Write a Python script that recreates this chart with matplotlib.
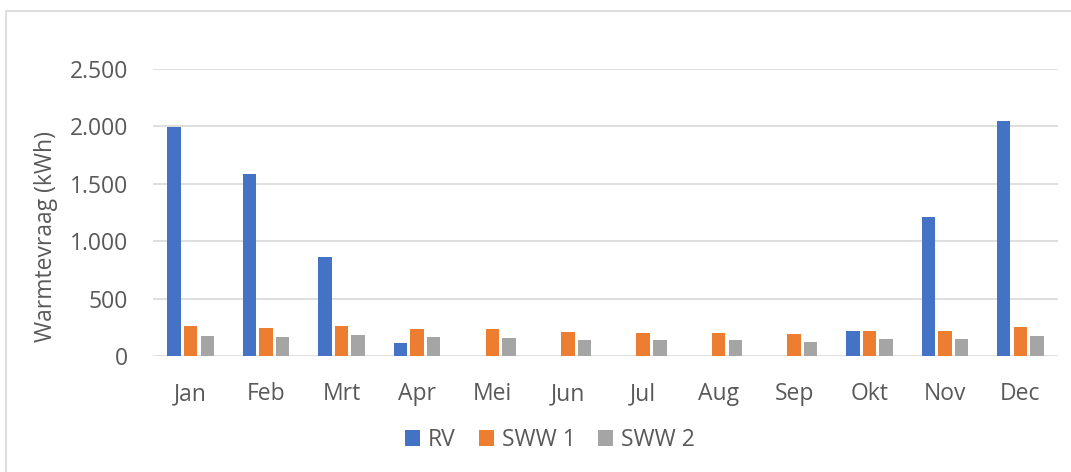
import numpy as np
import matplotlib
matplotlib.use('Agg')
import matplotlib.pyplot as plt
from matplotlib.patches import Rectangle
from matplotlib.ticker import FuncFormatter

months = ["Jan", "Feb", "Mrt", "Apr", "Mei", "Jun", "Jul", "Aug", "Sep", "Okt", "Nov", "Dec"]
rv = [1992, 1583, 865, 116, 0, 0, 0, 0, 0, 215, 1213, 2044]
sww1 = [261, 244, 261, 235, 239, 213, 204, 204, 189, 215, 215, 253]
sww2 = [172, 163, 180, 163, 158, 141, 141, 141, 125, 145, 145, 172]
series_names = ["RV", "SWW 1", "SWW 2"]
colors = ["#4472C4", "#ED7D31", "#A5A5A5"]

plt.rcParams['font.family'] = ['Open Sans', 'DejaVu Sans']
text_col = "#595959"
fs = 16.5

W, H = 1071, 472
fig = plt.figure(figsize=(W / 100, H / 100), dpi=100)
ax = fig.add_axes([153 / W, 1 - 356 / H, (1058 - 153) / W, (356 - 69) / H])

# chart border
fig.patches.append(Rectangle((6 / W, -0.05), 1.1, 1 - 11 / H + 0.05, transform=fig.transFigure,
                             fill=False, edgecolor="#d9d9d9", linewidth=1.2))

x = np.arange(len(months))
pitch = 0.22
bw = 0.178
for i, (vals, name, c) in enumerate(zip([rv, sww1, sww2], series_names, colors)):
    ax.bar(x + (i - 1) * pitch, vals, width=bw, color=c, label=name, zorder=3)

ax.set_xlim(-0.5, len(months) - 0.5)
ax.set_ylim(0, 2500)
ax.set_yticks(np.arange(0, 2501, 500))
ax.yaxis.set_major_formatter(FuncFormatter(lambda v, p: f"{int(v):,}".replace(",", ".")))
ax.set_xticks(x)
ax.set_xticklabels(months)
ax.grid(axis='y', color="#d9d9d9", linewidth=1.2, zorder=0)
for s in ax.spines.values():
    s.set_visible(False)
ax.tick_params(axis='both', length=0, colors=text_col, labelsize=fs)
ax.tick_params(axis='x', pad=19)
ax.tick_params(axis='y', pad=18)
ax.set_ylabel("Warmtevraag (kWh)", color=text_col, fontsize=fs)
ax.yaxis.set_label_coords(-0.105, 0.418)

ax.legend(loc='center', bbox_to_anchor=(0.439, -0.293), ncol=3, frameon=False,
          fontsize=fs, labelcolor=text_col, handlelength=0.65, handleheight=0.65,
          handletextpad=0.35, columnspacing=1.0)

fig.savefig("out.png", dpi=100)
